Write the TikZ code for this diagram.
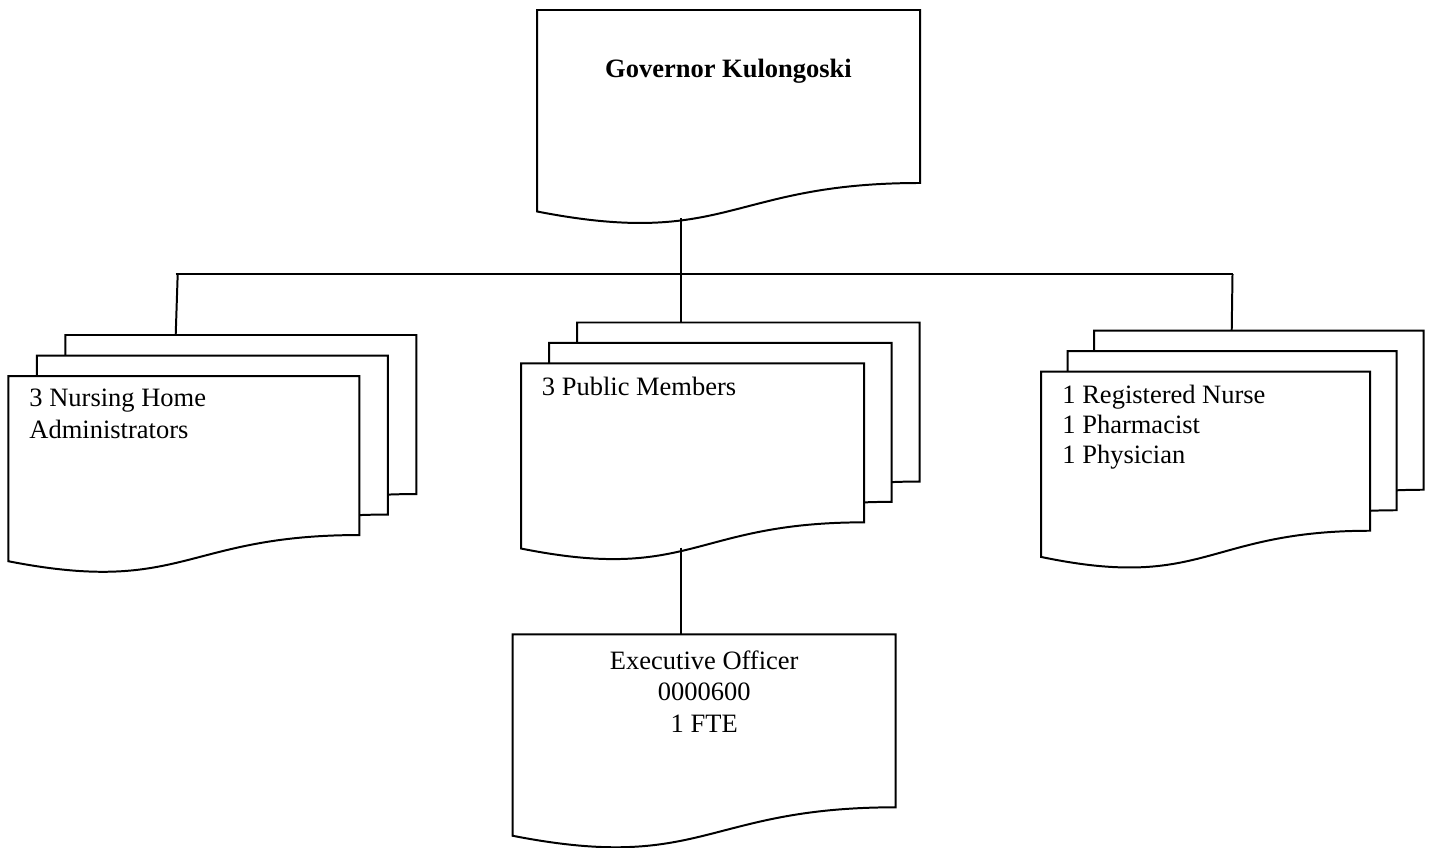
\documentclass[tikz,border=0pt]{standalone}
\usepackage{fontspec}
\setmainfont{Liberation Serif}
\usetikzlibrary{calc}
% document-shape outline from its top-left corner coordinate, width, height (px)
\newcommand\docpage[3]{%
  \draw[pageline] (#1) -- ($(#1)+(#2,0)$) -- ($(#1)+(#2,0.802*#3)$)
    .. controls ($(#1)+(0.5*#2,0.802*#3)$) and ($(#1)+(0.5*#2,1.1075*#3)$) ..
    ($(#1)+(0,0.934*#3)$) -- cycle;}
\begin{document}
\begin{tikzpicture}[x=0.453pt, y=-0.453pt,
  pageline/.style={draw=black, line width=0.9pt, fill=white},
  link/.style={draw=black, line width=0.9pt},
  txt/.style={inner sep=0pt, font=\fontsize{12}{13.8}\selectfont}]
\useasboundingbox (0,0) rectangle (1430,847);

% page corners
\coordinate (gov) at (537,10);
\coordinate (nh3) at (65.3,335);
\coordinate (nh2) at (36.8,355.5);
\coordinate (nh1) at (8.3,376);
\coordinate (pm3) at (577,322.5);
\coordinate (pm2) at (549,342.8);
\coordinate (pm1) at (521,363.3);
\coordinate (rn3) at (1094,330.7);
\coordinate (rn2) at (1067.5,351.2);
\coordinate (rn1) at (1041,371.7);
\coordinate (eo) at (512.7,634.3);

% outlines
\docpage{gov}{383}{215.7}
\docpage{nh3}{351}{198.3}
\docpage{nh2}{351}{198.3}
\docpage{nh1}{351}{198.3}
\docpage{pm3}{342.5}{198.3}
\docpage{pm2}{342.5}{198.3}
\docpage{pm1}{343}{198.3}
\docpage{rn3}{329.5}{198.3}
\docpage{rn2}{329}{198.3}
\docpage{rn1}{329}{198.3}
\docpage{eo}{383}{215.7}

% texts
\node[txt, font=\bfseries\fontsize{12}{13.8}\selectfont, anchor=base] (govt) at (728.5,77) {Governor Kulongoski};
\node[txt, anchor=base west] (nht) at (29,406.7)
  {\fontsize{12}{14.6}\selectfont\begin{tabular}[t]{@{}l@{}}3 Nursing Home\\Administrators\end{tabular}};
\node[txt, anchor=base west] (pmt) at (541.5,395) {3 Public Members};
\node[txt, anchor=base west] (rnt) at (1062,403.3)
  {\fontsize{12}{13.6}\selectfont\begin{tabular}[t]{@{}l@{}}1 Registered Nurse\\1 Pharmacist\\1 Physician\end{tabular}};
\node[txt, anchor=base] (eot) at (704.2,669.3)
  {\fontsize{12}{14.3}\selectfont\begin{tabular}[t]{@{}c@{}}Executive Officer\\0000600\\1 FTE\end{tabular}};

% connector points
\coordinate (govbot) at (681,218);
\coordinate (pmtop) at (681,322.5);
\coordinate (busL) at (175.7,274);
\coordinate (busR) at (1233,274);
\coordinate (nhbus) at (177.7,274);
\coordinate (nhtop) at (175.7,335);
\coordinate (rnbus) at (1232.5,274);
\coordinate (rntop) at (1231.7,330.7);
\coordinate (pmbot) at (681,547.5);
\coordinate (eotop) at (681,634.3);

% connectors
\draw[link] (govbot) -- (pmtop);
\draw[link] (busL) -- (busR);
\draw[link] (nhbus) -- (nhtop);
\draw[link] (rnbus) -- (rntop);
\draw[link] (pmbot) -- (eotop);
\end{tikzpicture}
\end{document}
